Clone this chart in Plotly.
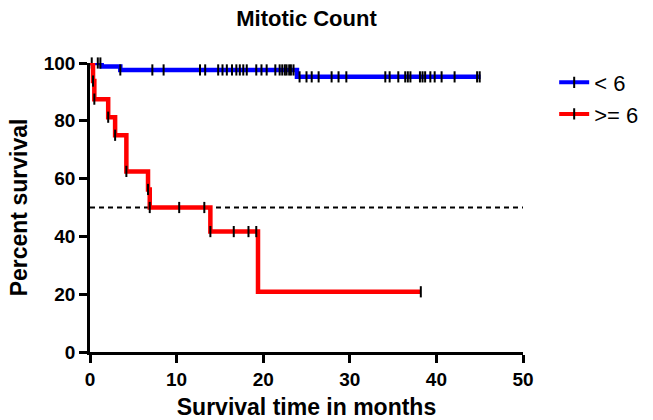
import plotly.graph_objects as go

# Step curves (time in months, percent survival)
low_t = [0, 1.35, 3.5, 23.9, 45.1]
low_s = [100, 98.8, 97.6, 95.2, 95.2]
high_t = [0, 0.35, 0.5, 2.1, 2.9, 4.2, 6.7, 6.9, 13.9, 19.4, 38.2]
high_s = [100, 93.75, 87.5, 81.25, 75, 62.5, 56.25, 50, 41.67, 20.83, 20.83]

# Censored observations
low_cens_t = [0.2, 0.9, 1.2, 3.5, 7.2, 8.5, 12.7, 13.3, 14.8, 15.3, 15.8, 16.4, 16.9, 17.3, 17.7,
              18.1, 19.2, 19.8, 20.4, 21.4, 21.9, 22.2, 22.5, 22.7, 23.0, 23.2, 23.5,
              24.2, 25.0, 25.6, 26.4, 27.9, 28.7, 29.6, 34.1, 34.6, 35.6, 36.4, 36.7, 37.0,
              38.1, 38.4, 38.7, 39.3, 39.8, 40.6, 42.1, 44.7, 45.0]
low_cens_s = [100, 100, 100] + [97.6] * 24 + [95.2] * 22
high_cens_t = [0.35, 0.5, 2.1, 2.9, 4.2, 6.7, 6.9, 10.3, 13.2, 13.9, 16.6, 18.3, 19.2, 38.2]
high_cens_s = [93.75, 87.5, 81.25, 75, 62.5, 56.25, 50, 50, 50, 41.67, 41.67, 41.67, 41.67, 20.83]

median_line_x = [0, 50]
median_line_y = [50, 50]

series_names = ["< 6", ">= 6"]
colors = ["#0000ff", "#ff0000"]
x_ticks = [0, 10, 20, 30, 40, 50]
y_ticks = [0, 20, 40, 60, 80, 100]

FONT = "Liberation Sans, Arial, sans-serif"

fig = go.Figure()
fig.add_trace(go.Scatter(x=median_line_x, y=median_line_y, mode="lines",
                         line=dict(color="black", width=2, dash="5px,4px"),
                         showlegend=False, hoverinfo="skip", cliponaxis=False))
for t, s, ct, cs, c in [(low_t, low_s, low_cens_t, low_cens_s, colors[0]),
                        (high_t, high_s, high_cens_t, high_cens_s, colors[1])]:
    fig.add_trace(go.Scatter(x=t, y=s, mode="lines", line=dict(color=c, width=4.5, shape="hv"),
                             showlegend=False, cliponaxis=False))
    fig.add_trace(go.Scatter(x=ct, y=cs, mode="markers",
                             marker=dict(symbol="line-ns", size=8, line=dict(color="black", width=2)),
                             showlegend=False, cliponaxis=False))

for i, (n, c) in enumerate(zip(series_names, colors)):
    fig.add_trace(go.Scatter(x=[None], y=[None], mode="lines+markers", name=n,
                             legendgroup=f"g{i}",
                             line=dict(color=c, width=4),
                             marker=dict(symbol="line-ns", size=8, color="black",
                                         line=dict(color="black", width=2))))

axis_common = dict(showline=True, linecolor="black", linewidth=2.5, ticks="outside",
                   ticklen=8, tickwidth=2.5, tickcolor="black", showgrid=False, zeroline=False,
                   automargin=False,
                   tickfont=dict(family=FONT, size=19, color="black", weight="bold"))

fig.update_layout(
    width=653, height=420,
    margin=dict(l=90, r=130, t=63, b=68, autoexpand=False),
    paper_bgcolor="white", plot_bgcolor="white",
    title=dict(text="<b>Mitotic Count</b>", x=0.5, xref="paper", xanchor="center",
               y=0.957, yref="container", yanchor="middle",
               font=dict(family=FONT, size=22, color="black")),
    xaxis=dict(range=[0, 50], tickvals=x_ticks,
               title=dict(text="<b>Survival time in months</b>", standoff=11,
                          font=dict(family=FONT, size=23, color="black")),
               **axis_common),
    yaxis=dict(range=[0, 100], tickvals=y_ticks,
               title=dict(text="<b>Percent survival</b>", standoff=10,
                          font=dict(family=FONT, size=23, color="black")),
               **axis_common),
    legend=dict(x=1.072, xanchor="left", y=1.005, yanchor="top",
                font=dict(family=FONT, size=22, color="black"), itemwidth=30,
                tracegroupgap=0, bgcolor="rgba(0,0,0,0)"),
)

fig.write_html("out.html")
